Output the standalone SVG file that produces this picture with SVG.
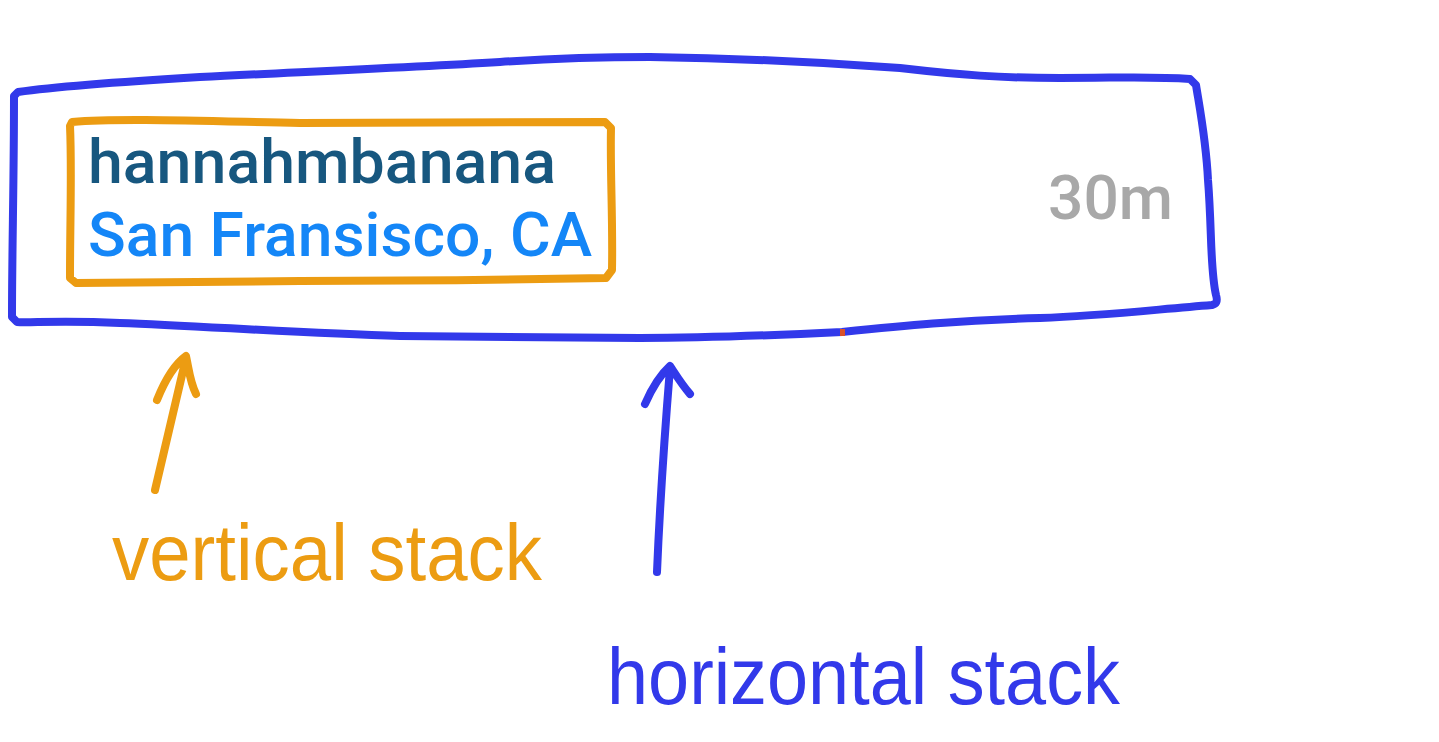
<svg xmlns="http://www.w3.org/2000/svg" width="1439" height="742" viewBox="0 0 1439 742">
<style>
.blue{fill:none;stroke:#3239ea;stroke-width:8;stroke-linecap:round;stroke-linejoin:round}
.orange{fill:none;stroke:#ec9c12;stroke-width:8;stroke-linecap:round;stroke-linejoin:round}
.ui{font-family:Roboto,"Liberation Sans",Arial,sans-serif;font-weight:500;font-size:62px}
.hand{font-family:"Liberation Sans",Arial,sans-serif;font-size:80px}
</style>
<rect width="1439" height="742" fill="#ffffff"/>
<g id="horizontal-stack">
<path class="blue" d="M14,96 L18,92 C60,86 150,80 200,77 C300,72 400,68 500,62 C560,58 620,57 650,57 C720,58 820,62 900,68 C960,75 1000,78 1060,78 C1120,78 1150,76 1190,79 L1196,85 C1200,110 1206,140 1208,180 C1212,230 1210,270 1216,295 C1218,302 1216,304 1212,305 C1150,310 1100,316 1040,318 C960,320 900,326 842,332 C760,336 700,338 640,338 C560,337 480,336 400,336 C300,333 200,326 120,323 C60,320 30,323 17,322 L12,317 C12,250 14,180 14,96 Z"/>
<rect x="840" y="329" width="5" height="7" fill="#d9502a"/>
<text class="ui" x="1048" y="219" fill="#a8a8a8" textLength="125" lengthAdjust="spacingAndGlyphs">30m</text>
</g>
<g id="vertical-stack">
<path class="orange" d="M72,122 C120,118 200,121 300,123 C400,122 500,122 605,122 L611,128 C610,170 613,220 612,270 L606,278 C500,280 400,281 300,281 C200,282 120,283 76,283 L70,278 C70,220 72,170 70,126 Z"/>
<text class="ui" x="88" y="183" fill="#17577f" textLength="468" lengthAdjust="spacingAndGlyphs">hannahmbanana</text>
<text class="ui" x="88" y="256" fill="#1486f7" textLength="504" lengthAdjust="spacingAndGlyphs">San Fransisco, CA</text>
</g>
<g id="connectors">
<path class="orange" d="M155,490 L186,358 M157,400 C165,380 175,364 186,356 C189,370 190,382 196,394"/>
<path class="blue" d="M657,572 C660,500 665,430 670,368 M645,404 C652,388 660,375 670,366 C676,375 682,385 690,394"/>
</g>
<g id="labels">
<text class="hand" x="112" y="580" fill="#ec9c12" textLength="430" lengthAdjust="spacingAndGlyphs">vertical stack</text>
<text class="hand" x="607" y="704" fill="#3239ea" textLength="513" lengthAdjust="spacingAndGlyphs">horizontal stack</text>
</g>
</svg>
